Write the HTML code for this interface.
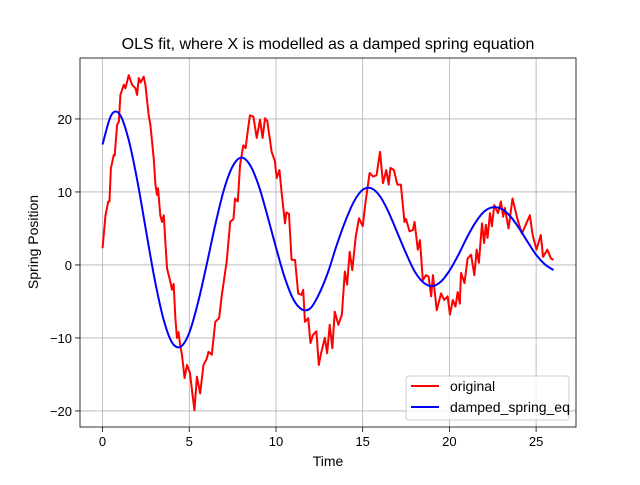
<!DOCTYPE html>
<html><head><meta charset="utf-8"><style>
body{margin:0;background:#fff;}
svg text{font-family:"Liberation Sans",sans-serif;}
</style></head><body>
<svg id="chart" width="640" height="480" xmlns="http://www.w3.org/2000/svg">
<rect width="640" height="480" fill="#fff"/>
<g id="grid"></g>
<g id="series"></g>
<rect x="80" y="58" width="496" height="369" fill="none" stroke="#000" stroke-width="0.8"/>
<g id="ticks"></g>
<text x="328" y="49" text-anchor="middle" font-size="16">OLS fit, where X is modelled as a damped spring equation</text>
<text x="328" y="466" text-anchor="middle" font-size="14">Time</text>
<text x="38" y="242" text-anchor="middle" font-size="14" transform="rotate(-90 38 242)">Spring Position</text>
<g>
<rect x="406" y="376" width="163" height="44" rx="3" fill="#fff" fill-opacity="0.8" stroke="#ccc" stroke-width="1"/>
<g>
<line x1="411" y1="386" x2="439" y2="386" stroke="#f00" stroke-width="2"/>
<text x="450" y="391" font-size="14">original</text></g>
<g>
<line x1="411" y1="407" x2="439" y2="407" stroke="#00f" stroke-width="2"/>
<text x="450" y="412" font-size="14">damped_spring_eq</text></g>
</g>
</svg>
<script>
const xTicks=[0,5,10,15,20,25];
const yTicks=[-20,-10,0,10,20];
const origT=[0,0.17,0.33,0.4,0.48,0.65,0.7,0.84,0.94,1.03,1.23,1.32,1.51,1.7,1.9,1.99,2.09,2.2,2.37,2.47,2.66,2.76,2.95,3.05,3.14,3.2,3.33,3.43,3.53,3.62,3.72,3.91,4.0,4.1,4.2,4.29,4.38,4.48,4.58,4.73,4.87,5.04,5.19,5.3,5.44,5.63,5.82,6.0,6.11,6.3,6.5,6.72,6.88,7.16,7.36,7.55,7.64,7.8,7.93,8.12,8.25,8.37,8.5,8.7,8.89,9.08,9.23,9.37,9.5,9.75,9.94,10.04,10.2,10.33,10.52,10.6,10.75,10.9,11.1,11.28,11.47,11.57,11.67,11.86,11.99,12.13,12.33,12.47,12.6,12.82,12.95,13.1,13.25,13.39,13.6,13.8,13.97,14.1,14.25,14.4,14.6,14.79,15.0,15.17,15.4,15.6,15.8,16.0,16.17,16.36,16.5,16.6,16.8,17.0,17.2,17.41,17.5,17.7,17.9,17.99,18.18,18.3,18.47,18.65,18.8,18.95,19.05,19.27,19.52,19.7,19.9,20.03,20.2,20.35,20.48,20.6,20.67,20.87,21.05,21.25,21.44,21.57,21.7,21.88,22.0,22.1,22.2,22.34,22.45,22.59,22.8,22.97,23.1,23.2,23.41,23.64,23.93,24.18,24.4,24.64,24.8,25.02,25.27,25.4,25.65,25.85,26.0];
const origY=[2.3,6.8,8.7,8.7,13.2,15.1,15,19.2,19.6,23.3,24.7,24.2,26.0,24.7,24.2,23.3,25.6,25,25.8,24.7,20.5,19.2,14.6,11.0,9.6,10.5,6.8,5.9,6.8,3.2,-0.5,-2.3,-3.4,-2.6,-7.3,-10,-9.2,-11,-12.3,-15.5,-13.7,-14.8,-17.8,-19.9,-15.3,-17.6,-13.7,-12.9,-11.9,-12.3,-7.8,-7.3,-4.1,0.5,5.9,6.3,9.1,8.7,13.7,16.4,16,18.3,20.5,20.3,17.4,19.9,17.4,20.1,19.7,15.5,14.2,11.9,13,9.8,5.7,7.2,7,0.7,0.7,-3.9,-4.1,-3.4,-7.8,-7.3,-10.7,-9.6,-9.1,-13.7,-12.1,-10,-12.1,-8.2,-11.4,-6.4,-8.2,-6.8,-0.9,-2.7,1.8,-0.7,3.9,6.4,5.3,8.7,12.6,12.1,12.3,15.5,11.2,13,11,13.3,13,11,11,5.9,6.3,4.6,4.8,5.9,2.1,3.4,-2.1,-1.4,-1.6,-4.3,-1.4,-6.2,-3.9,-4.8,-4.3,-6.8,-4.8,-5.7,-3.7,-5.3,-1.1,-2.5,0.9,1.4,-1.4,2.1,0.3,5.7,3,5.5,3.7,7.1,5.3,8.2,7.1,8.7,6.6,7.8,5.0,9.1,6.2,4.3,5.5,6.8,4.1,2.1,4.1,1.1,2.1,0.9,0.7];
const fitT=[0,0.5,1,1.5,2,2.5,3,3.5,4,4.5,5,5.5,6,6.5,7,7.5,8,8.5,9,9.5,10,10.5,11,11.5,12,12.5,13,13.5,14,14.5,15,15.5,16,16.5,17,17.5,18,18.5,19,19.5,20,20.5,21,21.5,22,22.5,23,23.5,24,24.5,25,25.5,26];
const fitY=[16.5,20.5,20.6,17.2,11.6,4.8,-1.9,-7.3,-10.6,-11.2,-9.3,-5.2,0.0,5.5,10.3,13.5,14.7,13.7,10.9,6.8,2.4,-1.7,-4.7,-6.1,-5.9,-3.9,-1.0,2.7,6.0,8.7,10.3,10.5,9.4,7.2,4.4,1.6,-0.9,-2.4,-2.9,-2.3,-0.8,1.3,3.7,5.8,7.3,7.9,7.7,6.7,5.1,3.2,1.4,0.1,-0.7];
const NS='http://www.w3.org/2000/svg';
const X0=80,X1=576,Y0=58,Y1=427,xmin=-1.3,xmax=27.3,ymin=-22.2,ymax=28.35;
function sx(v){return X0+(v-xmin)/(xmax-xmin)*(X1-X0);}
function sy(v){return Y1-(v-ymin)/(ymax-ymin)*(Y1-Y0);}
function mk(tag,attrs,parent){const e=document.createElementNS(NS,tag);for(const k in attrs)e.setAttribute(k,attrs[k]);parent.appendChild(e);return e;}
const grid=document.getElementById('grid'),ticks=document.getElementById('ticks'),series=document.getElementById('series');
xTicks.forEach(v=>{const x=sx(v);
 const g=mk('line',{x1:x,x2:x,y1:Y0,y2:Y1,stroke:'#b0b0b0','stroke-width':0.8},grid);
 
 
 const t=mk('line',{x1:x,x2:x,y1:Y1,y2:Y1+5,stroke:'#000','stroke-width':0.8},ticks);
 
 
 const l=mk('text',{x:x,y:Y1+19,'text-anchor':'middle','font-size':13},ticks);l.textContent=String(v);
 
 
});
yTicks.forEach(v=>{const y=sy(v);
 const g=mk('line',{x1:X0,x2:X1,y1:y,y2:y,stroke:'#b0b0b0','stroke-width':0.8},grid);
 
 
 const t=mk('line',{x1:X0-5,x2:X0,y1:y,y2:y,stroke:'#000','stroke-width':0.8},ticks);
 
 
 const l=mk('text',{x:X0-8,y:y+5,'text-anchor':'end','font-size':13},ticks);l.textContent=(v<0?'\u2212'+(-v):String(v));
 
 
});
function poly(ts,ys){return ts.map((t,i)=>sx(t).toFixed(2)+','+sy(ys[i]).toFixed(2)).join(' ');}
function smooth(ts,ys){const p=ts.map((t,i)=>[sx(t),sy(ys[i])]);let d='M'+p[0][0]+','+p[0][1];
 for(let i=0;i<p.length-1;i++){const a=p[Math.max(0,i-1)],b=p[i],c=p[i+1],e=p[Math.min(p.length-1,i+2)];
 d+=' C'+(b[0]+(c[0]-a[0])/6)+','+(b[1]+(c[1]-a[1])/6)+' '+(c[0]-(e[0]-b[0])/6)+','+(c[1]-(e[1]-b[1])/6)+' '+c[0]+','+c[1];}
 return d;}
const red=mk('polyline',{points:poly(origT,origY),fill:'none',stroke:'#f00','stroke-width':2,'stroke-linejoin':'round'},series);


const blue=mk('path',{d:smooth(fitT,fitY),fill:'none',stroke:'#00f','stroke-width':2},series);


</script>
</body></html>
